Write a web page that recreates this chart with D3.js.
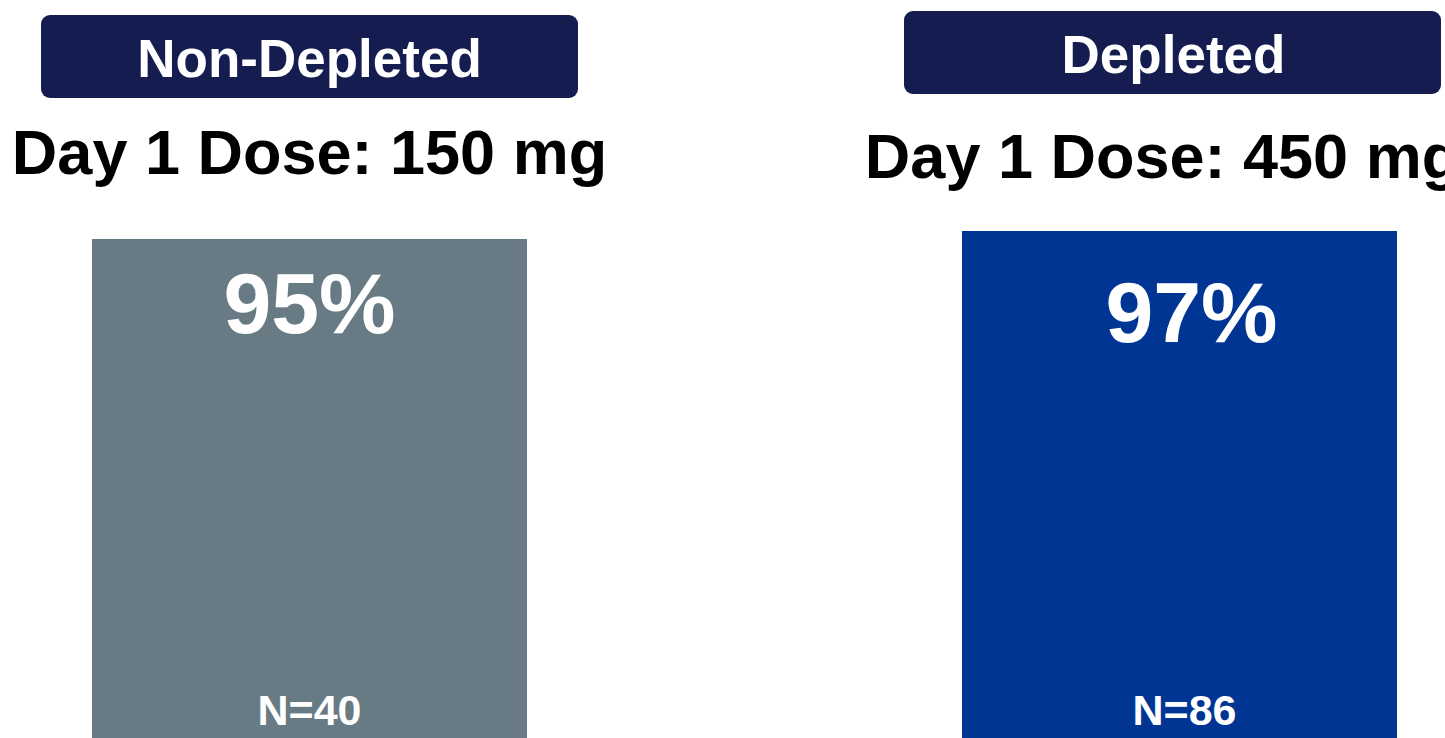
<!DOCTYPE html>
<html>
<head>
<meta charset="utf-8">
<script src="https://cdn.jsdelivr.net/npm/d3@7"></script>
<style>
  html, body { margin: 0; padding: 0; background: #fff; overflow: hidden; }
  text { font-family: "Liberation Sans", Arial, sans-serif; font-weight: bold; }
</style>
</head>
<body>
<div class="chart"></div>
<script>
const groups = ["Non-Depleted", "Depleted"];
const doses = ["Day 1 Dose: 150 mg", "Day 1 Dose: 450 mg"];
const values = [95, 97];
const counts = [40, 86];
const colors = ["#687a84", "#003594"];

const W = 1445, H = 738;

const svg = d3.select(".chart")
  .append("svg")
  .attr("width", W)
  .attr("height", H);

// panel centres
const x = d3.scaleBand()
  .domain(groups)
  .range([-125.5, 1614.5])
  .paddingInner(0)
  .paddingOuter(0);

const barW = 435;

// bars are cropped at the bottom of the slide
const y = d3.scaleLinear().domain([0, 100]).range([619, 219]);

const panel = svg.selectAll("g.panel")
  .data(groups)
  .enter()
  .append("g")
  .attr("class", "panel")
  .attr("transform", d => "translate(" + (x(d) + x.bandwidth() / 2) + ",0)");

// header boxes
panel.append("rect")
  .attr("x", (d, i) => i === 0 ? -268.5 : -275.5)
  .attr("y", (d, i) => i === 0 ? 15 : 11)
  .attr("width", 537)
  .attr("height", 83)
  .attr("rx", 9)
  .attr("fill", "#141c50");

panel.append("text")
  .attr("x", (d, i) => i === 0 ? 0 : -6)
  .attr("y", (d, i) => i === 0 ? 77 : 73)
  .attr("text-anchor", "middle")
  .attr("fill", "#fff")
  .style("font-size", "53px")
  .text(d => d);

panel.append("text")
  .attr("x", (d, i) => i === 0 ? 0 : -17)
  .attr("y", (d, i) => i === 0 ? 174 : 178)
  .attr("text-anchor", "middle")
  .attr("fill", "#000")
  .style("font-size", "63px")
  .text((d, i) => doses[i]);

panel.append("rect")
  .attr("x", -barW / 2)
  .attr("y", (d, i) => y(values[i]))
  .attr("width", barW)
  .attr("height", (d, i) => H - y(values[i]))
  .attr("fill", (d, i) => colors[i]);

panel.append("text")
  .attr("x", (d, i) => i === 0 ? 0 : 12)
  .attr("y", (d, i) => y(values[i]) + (i === 0 ? 94 : 111))
  .attr("text-anchor", "middle")
  .attr("fill", "#fff")
  .style("font-size", "86px")
  .text((d, i) => values[i] + "%");

panel.append("text")
  .attr("x", (d, i) => i === 0 ? 0 : 5)
  .attr("y", 725)
  .attr("text-anchor", "middle")
  .attr("fill", "#fff")
  .style("font-size", "43px")
  .text((d, i) => "N=" + counts[i]);
</script>
</body>
</html>
